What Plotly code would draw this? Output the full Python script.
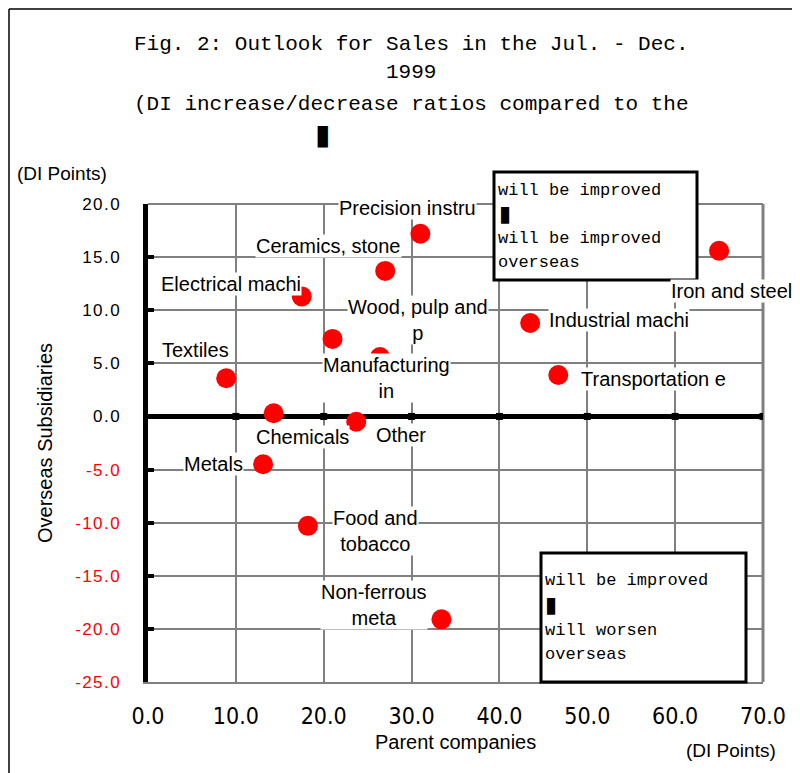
import plotly.graph_objects as go

# ---------------- data ----------------
industries = ["Precision instru", "Ceramics, stone", "Electrical machi", "Wood, pulp and<br>p",
              "Manufacturing<br>in", "Textiles", "Chemicals", "Other", "Metals",
              "Food and<br>tobacco", "Non-ferrous<br>meta", "Industrial machi",
              "Transportation e", "Iron and steel"]
parent_di = [31.0, 27.0, 17.5, 21.0, 26.4, 8.9, 14.3, 23.7, 13.1, 18.2, 33.4, 43.5, 46.7, 65.0]
overseas_di = [17.2, 13.7, 11.3, 7.3, 5.6, 3.6, 0.3, -0.5, -4.5, -10.3, -19.1, 8.8, 3.9, 15.6]
x_ticks = [0, 10, 20, 30, 40, 50, 60, 70]
y_ticks = [20, 15, 10, 5, 0, -5, -10, -15, -20, -25]

# label offsets in pixels (xshift, yshift) relative to each point
label_offsets = [(-13, 26), (-57, 25), (-71, 12), (85, 19), (7, -21), (-31, 28), (29, -24),
                 (45, -13), (-50, 0), (68, -5), (-67, 14), (89, 3), (95, -4), (12, -40)]

OFF = 8  # page body margin
W, H = 792, 765
L, R, T, B = 140, 37, 196, 91
PW, PH = W - L - R, H - T - B


def px(xp):
    return (xp - OFF - L) / PW


def py(yp):
    return (H - B - (yp - OFF)) / PH


HS = "\u200a"


def fmt(v):
    s = f"{v:.1f}"
    s = HS.join(s)
    if v < 0:
        return f'<span style="color:#ff0000">{s}</span>'
    return s


SANS = "Liberation Sans, Arial, sans-serif"
NARROW = "Liberation Sans Narrow, Arial Narrow, DejaVu Sans Condensed, sans-serif"
MONO = "Liberation Mono, DejaVu Sans Mono, monospace"

fig = go.Figure()

fig.add_trace(go.Scatter(
    x=parent_di, y=overseas_di, mode="markers",
    marker=dict(color="#ff0000", size=20, line=dict(width=0)),
    showlegend=False, hoverinfo="skip"))

# tick marks on the zero line (crossing axis)
fig.add_trace(go.Scatter(
    x=x_ticks[1:], y=[0] * (len(x_ticks) - 1), mode="markers",
    marker=dict(color="black", size=7, symbol="square"),
    showlegend=False, hoverinfo="skip"))

annotations = []
for name, xv, yv, (dx, dy) in zip(industries, parent_di, overseas_di, label_offsets):
    annotations.append(dict(
        x=xv, y=yv, xref="x", yref="y", text=name, showarrow=False,
        xshift=dx, yshift=dy, font=dict(family=SANS, size=20, color="black"),
        bgcolor="white", borderpad=0, align="center"))

# titles
title_lines = [("Fig. 2: Outlook for Sales in the Jul. - Dec.", 44),
               ("1999", 72),
               ("(DI increase/decrease ratios compared to the", 104)]
for t, yy in title_lines:
    annotations.append(dict(x=px(411), y=py(yy), xref="paper", yref="paper", text=t,
                            showarrow=False, xanchor="center", yanchor="middle",
                            font=dict(family=MONO, size=21, color="black")))
annotations.append(dict(x=px(322), y=py(135), xref="paper", yref="paper", text="\u25ae",
                        showarrow=False, xanchor="center", yanchor="middle",
                        font=dict(family="DejaVu Sans", size=28, color="black")))

annotations.append(dict(x=px(15), y=py(173), xref="paper", yref="paper", text="(DI Points)",
                        showarrow=False, xanchor="left", yanchor="middle", bgcolor="white",
                        font=dict(family=SANS, size=19, color="black")))
annotations.append(dict(x=px(778), y=py(750), xref="paper", yref="paper", text="(DI Points)",
                        showarrow=False, xanchor="right", yanchor="middle",
                        font=dict(family=SANS, size=19, color="black")))
annotations.append(dict(x=px(455), y=py(742), xref="paper", yref="paper", text="Parent companies",
                        showarrow=False, xanchor="center", yanchor="middle",
                        font=dict(family=SANS, size=20, color="black")))
annotations.append(dict(x=px(45), y=py(443), xref="paper", yref="paper",
                        text="Overseas Subsidiaries", textangle=-90,
                        showarrow=False, xanchor="center", yanchor="middle",
                        font=dict(family=SANS, size=20, color="black")))

# boxes text
box1 = [("will be improved", 190), ("will be improved", 238), ("overseas", 262)]
for t, yy in box1:
    annotations.append(dict(x=px(496), y=py(yy), xref="paper", yref="paper", text=t,
                            showarrow=False, xanchor="left", yanchor="middle",
                            font=dict(family=MONO, size=17, color="black")))
annotations.append(dict(x=px(497), y=py(213), xref="paper", yref="paper", text="\u25ae",
                        showarrow=False, xanchor="left", yanchor="middle",
                        font=dict(family="DejaVu Sans", size=22, color="black")))
box2 = [("will be improved", 580), ("will worsen", 630), ("overseas", 654)]
for t, yy in box2:
    annotations.append(dict(x=px(543), y=py(yy), xref="paper", yref="paper", text=t,
                            showarrow=False, xanchor="left", yanchor="middle",
                            font=dict(family=MONO, size=17, color="black")))
annotations.append(dict(x=px(543), y=py(604), xref="paper", yref="paper", text="\u25ae",
                        showarrow=False, xanchor="left", yanchor="middle",
                        font=dict(family="DejaVu Sans", size=22, color="black")))

shapes = [
    # right and top plot borders (grey)
    dict(type="line", xref="paper", yref="paper", x0=1, x1=1, y0=0, y1=1,
         line=dict(color="#808080", width=3), layer="below"),
    dict(type="line", xref="paper", yref="paper", x0=0, x1=1, y0=1, y1=1,
         line=dict(color="#808080", width=2), layer="below"),
    # legend-like boxes
    dict(type="rect", xref="paper", yref="paper", x0=px(494), x1=px(697), y0=py(280), y1=py(172),
         line=dict(color="black", width=3), fillcolor="white", layer="above"),
    dict(type="rect", xref="paper", yref="paper", x0=px(541), x1=px(746), y0=py(682), y1=py(553),
         line=dict(color="black", width=3), fillcolor="white", layer="above"),
    # outer frame (left and top)
    dict(type="line", xref="paper", yref="paper", x0=px(9), x1=px(9), y0=py(9), y1=py(790),
         line=dict(color="black", width=1.5)),
    dict(type="line", xref="paper", yref="paper", x0=px(9), x1=px(810), y0=py(9), y1=py(9),
         line=dict(color="black", width=1.5)),
]

fig.update_layout(
    width=W, height=H,
    margin=dict(l=L, r=R, t=T, b=B, pad=0),
    paper_bgcolor="white", plot_bgcolor="white",
    showlegend=False,
    annotations=annotations,
    shapes=shapes,
    xaxis=dict(range=[0, 70], tickvals=x_ticks, ticktext=[f"{v:.1f}" for v in x_ticks],
               showgrid=True, gridcolor="#808080", gridwidth=1.5,
               showline=True, linecolor="#808080", linewidth=2,
               zeroline=False, ticks="", ticklabelstandoff=12,
               tickfont=dict(family=NARROW, size=23, color="black"), fixedrange=True),
    yaxis=dict(range=[-25, 20], tickvals=y_ticks, ticktext=[fmt(v) for v in y_ticks],
               showgrid=True, gridcolor="#808080", gridwidth=1.5,
               showline=True, linecolor="black", linewidth=5,
               zeroline=True, zerolinecolor="black", zerolinewidth=5,
               ticks="inside", ticklen=6, tickwidth=4, tickcolor="black",
               ticklabelstandoff=20,
               tickfont=dict(family=SANS, size=17, color="black"), fixedrange=True),
)

fig.write_html("out.html")
